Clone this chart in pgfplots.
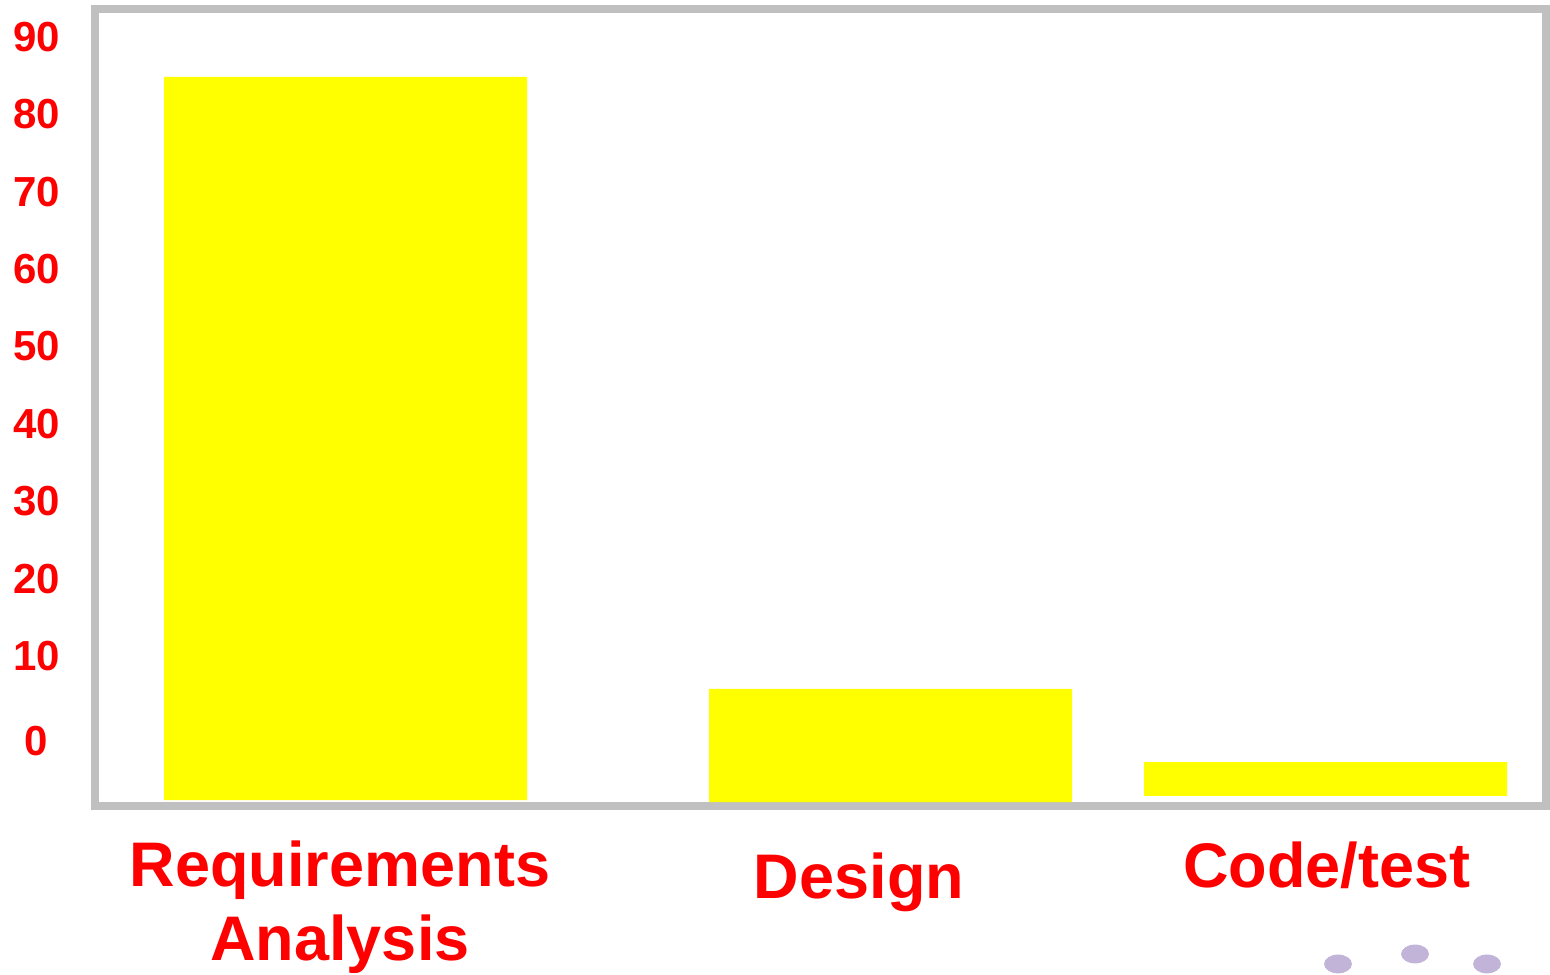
\documentclass[border=0pt]{standalone}
\usepackage{fontspec}
\setmainfont{Liberation Sans}
\usepackage{pgfplots}
\usepackage{pgfplotstable}
\pgfplotsset{compat=1.18}
\definecolor{frameGray}{HTML}{C0C0C0}
\definecolor{barYellow}{HTML}{FFFF00}
\definecolor{labRed}{HTML}{FF0000}
\definecolor{dotLav}{HTML}{C2B4D8}

% the chart's bars do not start at its 0 line, so the y axis is shifted by 10:
% axis y = value + 10.  base = where the bar starts, height = its length
\pgfplotstableread{
px     base    height
345.5  1.39    93.44
890.5  1.13    14.61
1325.5 1.91    4.39
}\bartab

\pgfplotstableread{
px    py
1338  -19.80
1415  -18.51
1487  -19.80
}\dottab

\pgfplotsset{common/.style={
    scale only axis,
    width=725.25pt, height=398.5pt,
    xmin=95.5, xmax=1546,
    ymin=0.62, ymax=103.62,
    clip=false,
}}

\begin{document}
\begin{tikzpicture}
\begin{axis}[
    common,
    ybar stacked,
    bar width=363,
    xtick=\empty,
    ytick={9,20,30,40,50,60,70,80,90,100},
    yticklabels={0,10,20,30,40,50,60,70,80,90},
    major tick length=0pt,
    axis line style={draw=frameGray, line width=4pt},
    yticklabel style={anchor=center, xshift=-29.5pt, text=labRed,
        font=\fontsize{21}{25}\selectfont\bfseries},
]
\addplot[draw=none, fill=white, fill opacity=0] table[x=px, y=base]{\bartab};
\addplot[draw=none, fill=barYellow] table[x=px, y=height]{\bartab};
\coordinate (bl) at (axis cs:0,-21.22);
\coordinate (tr) at (axis cs:1550,104.78);
\end{axis}
\begin{axis}[common, axis lines=none]
\addplot[only marks, mark=*, mark size=4.5pt,
    mark options={xscale=1.5, fill=dotLav, draw=dotLav}] table[x=px, y=py]{\dottab};
\node[anchor=base, text=labRed, inner sep=0pt, font=\fontsize{31.5}{36}\selectfont\bfseries]
    at (axis cs:340,-9.85) {Requirements};
\node[anchor=base, text=labRed, inner sep=0pt, font=\fontsize{31.5}{36}\selectfont\bfseries]
    at (axis cs:340,-19.29) {Analysis};
\node[anchor=base, text=labRed, inner sep=0pt, font=\fontsize{31.5}{36}\selectfont\bfseries]
    at (axis cs:859,-11.40) {Design};
\node[anchor=base, text=labRed, inner sep=0pt, font=\fontsize{31.5}{36}\selectfont\bfseries]
    at (axis cs:1327,-9.98) {Code/test};
\end{axis}
\pgfresetboundingbox
\path (bl) rectangle (tr);
\end{tikzpicture}
\end{document}
